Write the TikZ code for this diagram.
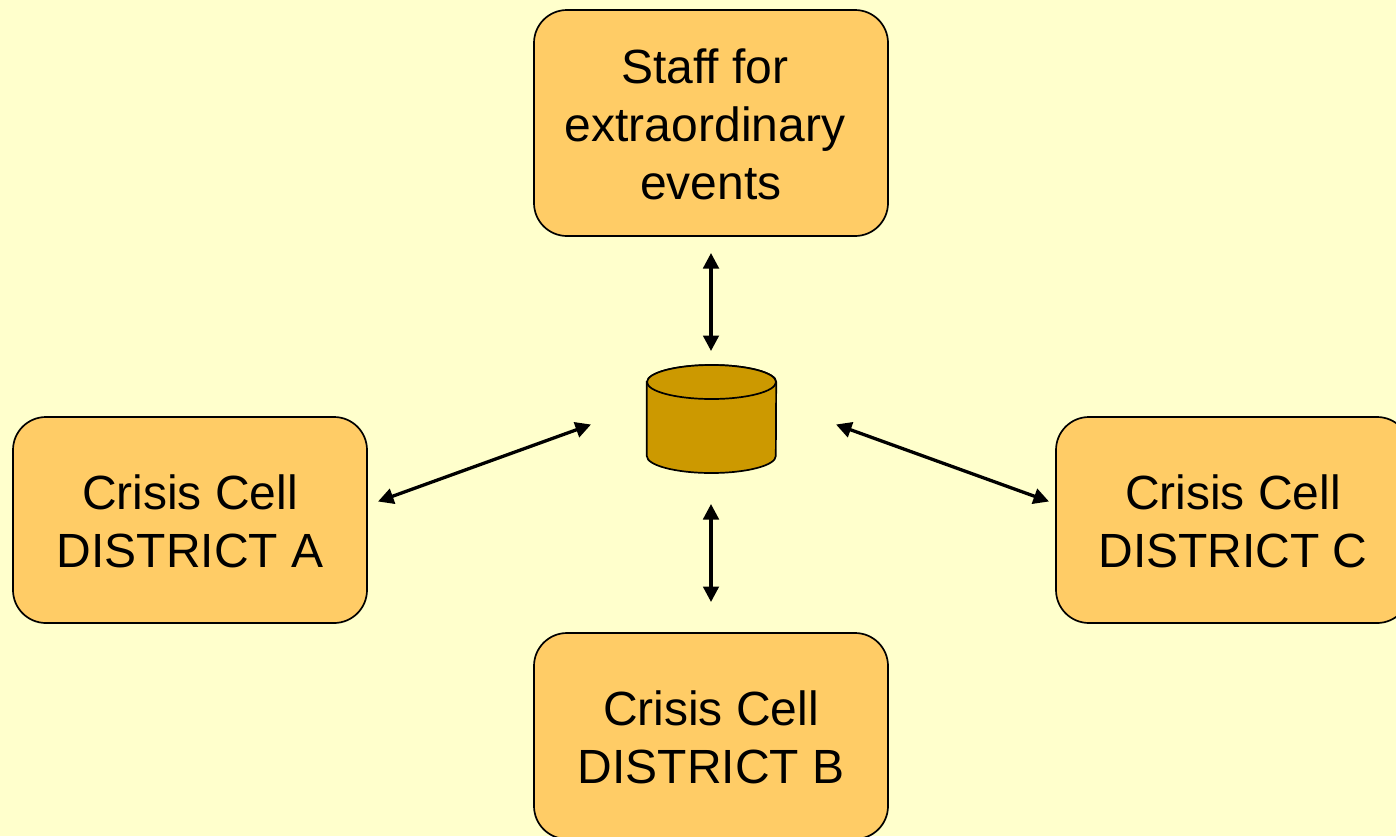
\documentclass[tikz,border=0pt]{standalone}
\usepackage{fontspec}
\setmainfont{Liberation Sans}
\usetikzlibrary{arrows.meta}
\definecolor{bgc}{HTML}{FFFFCC}
\definecolor{boxc}{HTML}{FFCC66}
\definecolor{dbc}{HTML}{CC9900}
\newcommand{\dn}[1]{\raisebox{-1.5pt}[\height][\depth]{#1}}
\tikzset{
  cellbox/.style={draw=black,line width=1.7pt,fill=boxc,rounded corners=33pt,minimum width=354pt,inner sep=0pt,align=center,font=\fontsize{48}{58}\selectfont},
  link/.style={draw=black,line width=3.3pt,{Triangle[length=15.5pt,width=15.5pt]}-{Triangle[length=15.5pt,width=15.5pt]}},
  dbshape/.style={draw=black,line width=1.7pt,fill=dbc}
}
\begin{document}
\begin{tikzpicture}[x=1pt,y=-1pt]
\useasboundingbox (0,0) rectangle (1396,836);
\fill[bgc] (0,0) rectangle (1396,836);
\clip (0,0) rectangle (1396,836);
\node[cellbox,minimum height=226pt] (staff) at (711,123) {\dn{Staff for}\rule{12pt}{0pt}\\\dn{extraordinary}\rule{12pt}{0pt}\\\dn{events}};
\node[cellbox,minimum height=206pt] (cellA) at (190,520) {\dn{Crisis Cell}\\\dn{DISTRICT A}};
\node[cellbox,minimum height=206pt] (cellC) at (1233,520) {\dn{Crisis Cell}\\\dn{DISTRICT C}};
\node[cellbox,minimum height=206pt] (cellB) at (711,736) {\dn{Crisis Cell}\\\dn{DISTRICT B}};
\node[inner sep=0pt,minimum width=129pt,minimum height=108pt] (db) at (711.5,419) {};
\path[dbshape] (db.west |- 0,382) -- (db.west |- 0,456) arc[start angle=180,end angle=360,x radius=64.5pt,y radius=17pt] -- (db.east |- 0,382) arc[start angle=0,end angle=180,x radius=64.5pt,y radius=17pt] -- cycle;
\path[dbshape] (711.5,382) ellipse[x radius=64.5pt,y radius=17pt];
\coordinate (s1) at (711,253);
\coordinate (s2) at (711,351);
\coordinate (b1) at (711,504);
\coordinate (b2) at (711,602);
\coordinate (a1) at (378,501.5);
\coordinate (a2) at (591,424.5);
\coordinate (c1) at (1049,501.5);
\coordinate (c2) at (836,424.5);
\draw[link] (s1) -- (s2);
\draw[link] (b1) -- (b2);
\draw[link] (a1) -- (a2);
\draw[link] (c1) -- (c2);
\end{tikzpicture}
\end{document}
